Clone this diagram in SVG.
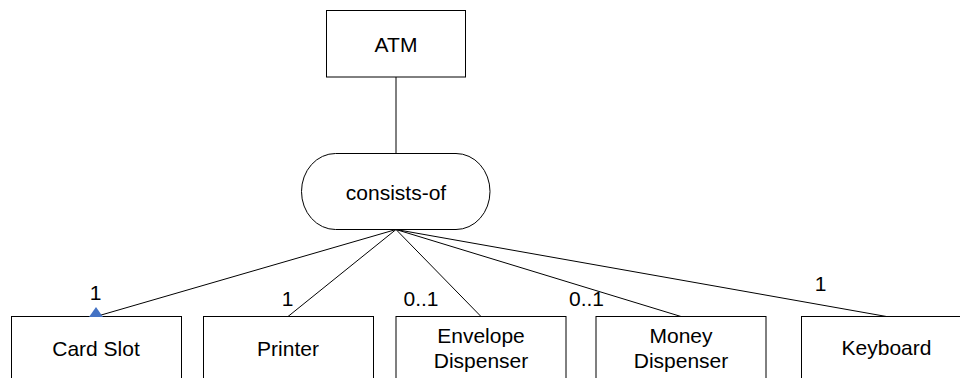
<svg xmlns="http://www.w3.org/2000/svg" width="960" height="378" viewBox="0 0 960 378">
  <style>
    .box { fill: #ffffff; stroke: #000000; stroke-width: 1; }
    .edge { fill: none; stroke: #000000; stroke-width: 1; }
    .head { fill: #4472C4; stroke: none; }
    .lbl { font-family: "Liberation Sans", Arial, sans-serif; font-size: 21px; fill: #000000; text-anchor: middle; }
  </style>
  <rect width="960" height="378" fill="#ffffff"/>

  <g id="atm">
    <rect class="box" x="326.5" y="10.5" width="139" height="66.5"/>
    <text class="lbl" x="396" y="51.5">ATM</text>
  </g>

  <g id="consists-of">
    <rect class="box" x="301.5" y="153.5" width="188.5" height="76" rx="34" ry="38"/>
    <text class="lbl" x="396" y="199.5">consists-of</text>
  </g>

  <g id="card-slot">
    <rect class="box" x="11.5" y="316.5" width="170" height="80"/>
    <text class="lbl" x="96" y="356">Card Slot</text>
  </g>

  <g id="printer">
    <rect class="box" x="203.5" y="316.5" width="170" height="80"/>
    <text class="lbl" x="288" y="356">Printer</text>
  </g>

  <g id="envelope-dispenser">
    <rect class="box" x="396" y="316.5" width="170" height="80"/>
    <text class="lbl" x="481" y="343">Envelope</text>
    <text class="lbl" x="481" y="368">Dispenser</text>
  </g>

  <g id="money-dispenser">
    <rect class="box" x="596" y="316.5" width="170" height="80"/>
    <text class="lbl" x="681" y="343">Money</text>
    <text class="lbl" x="681" y="368">Dispenser</text>
  </g>

  <g id="keyboard">
    <rect class="box" x="801.5" y="316.5" width="170" height="80"/>
    <text class="lbl" x="886.5" y="355">Keyboard</text>
  </g>

  <!-- connectors, drawn last so the end triangle sits on top of the box edge -->
  <g id="connectors">
    <line class="edge" x1="396" y1="77" x2="396" y2="153.5"/>
    <line class="edge" x1="396" y1="229.5" x2="96" y2="316.5"/>
    <polygon class="head" points="89,317 96,307 103,317"/>
    <line class="edge" x1="396" y1="229.5" x2="288" y2="316.5"/>
    <line class="edge" x1="396" y1="229.5" x2="481" y2="316.5"/>
    <line class="edge" x1="396" y1="229.5" x2="681" y2="316.5"/>
    <line class="edge" x1="396" y1="229.5" x2="886.5" y2="316.5"/>
    <!-- multiplicities -->
    <text class="lbl" x="95.5" y="299.5">1</text>
    <text class="lbl" x="287.5" y="306">1</text>
    <text class="lbl" x="421" y="306">0..1</text>
    <text class="lbl" x="586.5" y="306">0..1</text>
    <text class="lbl" x="820.5" y="291">1</text>
  </g>
</svg>
